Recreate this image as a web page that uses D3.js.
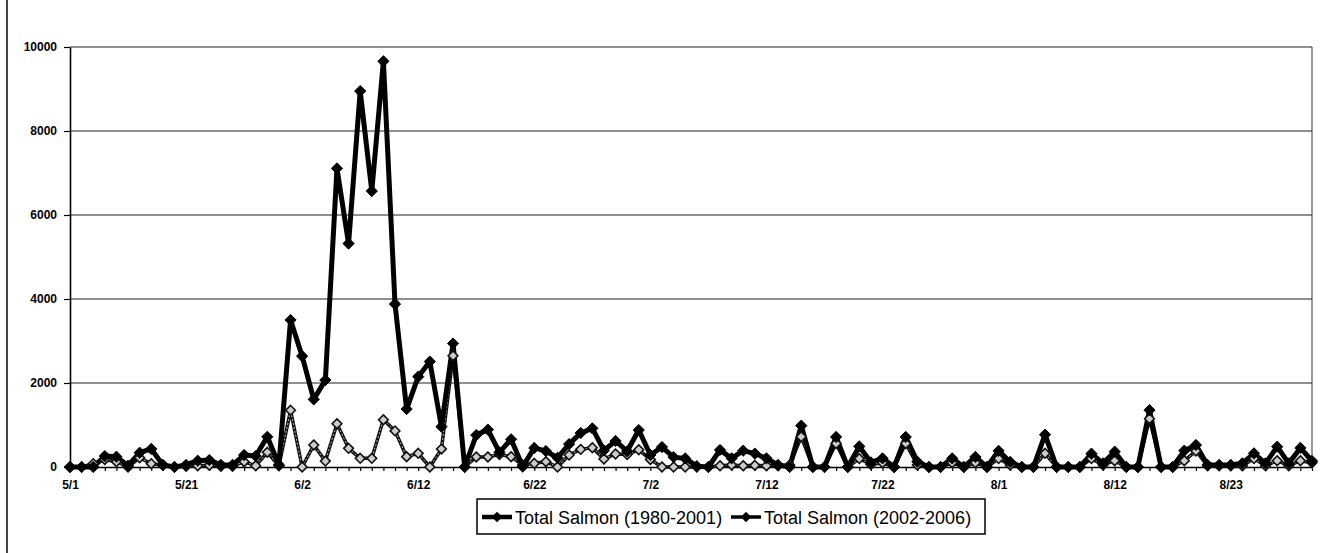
<!DOCTYPE html>
<html>
<head>
<meta charset="utf-8">
<script src="https://cdn.jsdelivr.net/npm/d3@7"></script>
<style>
  body { margin: 0; background: #fff; }
  svg { display: block; font-family: "Liberation Sans", Arial, sans-serif; }
</style>
</head>
<body>
<div id="chart"></div>
<script>
//Chart size
var width = 1323,
  height = 553;

//Date labels shown on the category axis (one every 10 samples)
var tickLabels = ["5/1", "5/21", "6/2", "6/12", "6/22", "7/2", "7/12", "7/22", "8/1", "8/12", "8/23"];
var labelStep = 10;

//Total Salmon (1980-2001)
var salmon1980 = [
  0, 0, 0, 260, 245, 30, 340, 430, 50, 0,
  50, 150, 165, 50, 50, 285, 260, 720, 50, 3500,
  2640, 1610, 2070, 7110, 5320, 8950, 6570, 9660, 3880, 1380,
  2150, 2510, 960, 2940, 0, 760, 890, 350, 660, 10,
  455, 380, 220, 545, 810, 920, 395, 620, 375, 880,
  286, 475, 235, 205, 20, 0, 405, 206, 389, 320,
  206, 50, 0, 985, 0, 0, 715, 0, 490, 110,
  206, 0, 715, 127, 0, 0, 206, 0, 240, 0,
  385, 120, 0, 0, 770, 0, 0, 0, 318, 87,
  365, 0, 0, 1355, 0, 0, 389, 524, 50, 50,
  50, 87, 325, 87, 484, 87, 455, 143
];

//Total Salmon (2002-2006)
var salmon2002 = [
  0, 0, 80, 180, 127, 0, 220, 80, 40, 0,
  20, 30, 40, 20, 20, 127, 30, 350, 30, 1350,
  0, 524, 140, 1030, 444, 206, 206, 1125, 860, 246,
  325, 0, 430, 2650, 0, 240, 240, 300, 246, 48,
  87, 127, 0, 286, 420, 460, 190, 310, 300, 410,
  180, 0, 0, 0, 0, 0, 30, 50, 30, 40,
  30, 30, 50, 720, 0, 0, 560, 0, 200, 60,
  100, 0, 560, 50, 0, 0, 100, 0, 100, 0,
  200, 50, 0, 0, 325, 0, 0, 0, 200, 50,
  150, 0, 0, 1150, 0, 0, 150, 380, 30, 30,
  30, 30, 200, 30, 150, 30, 150, 100
];

var yTicks = [0, 2000, 4000, 6000, 8000, 10000];

var svg = d3
  .select("#chart")
  .append("svg")
  .attr("width", width)
  .attr("height", height);

//Scales: one point per sample, evenly spaced like an Excel category axis
var x = d3.scalePoint().domain(d3.range(salmon1980.length)).range([70, 1312]);
var y = d3.scaleLinear().domain([0, 10000]).range([467, 47]);

//Left edge of the chart area
svg.append("line")
  .attr("x1", 7).attr("x2", 7)
  .attr("y1", 0).attr("y2", height)
  .attr("stroke", "#444")
  .attr("stroke-width", 2);

//Horizontal gridlines
svg.append("g")
  .selectAll("line")
  .data(yTicks.slice(1))
  .enter()
  .append("line")
  .attr("x1", 70)
  .attr("x2", 1312)
  .attr("y1", function (d) { return y(d); })
  .attr("y2", function (d) { return y(d); })
  .attr("stroke", "#222")
  .attr("stroke-width", 1);

//Right border of plot area
svg.append("line")
  .attr("x1", 1312).attr("x2", 1312)
  .attr("y1", y(10000)).attr("y2", y(0))
  .attr("stroke", "#333")
  .attr("stroke-width", 1);

//Y axis
svg.append("g")
  .attr("transform", "translate(70,0)")
  .call(
    d3.axisLeft(y)
      .tickValues(yTicks)
      .tickFormat(d3.format("d"))
      .tickSize(6)
      .tickSizeOuter(0)
      .tickPadding(7)
  );

//X axis, tick at every sample, label every 10th
svg.append("g")
  .attr("transform", "translate(0," + y(0) + ")")
  .call(
    d3.axisBottom(x)
      .tickSize(4)
      .tickSizeOuter(0)
      .tickPadding(9)
      .tickFormat(function (i) {
        return i % labelStep === 0 ? tickLabels[i / labelStep] : "";
      })
  );

svg.selectAll(".domain").attr("stroke", "#000").attr("stroke-width", 1.6);
svg.selectAll(".tick line").attr("stroke", "#000").attr("stroke-width", 1.2);
svg.selectAll(".tick text")
  .attr("fill", "#000")
  .style("font-size", "12px")
  .style("font-weight", "bold");

//Line generator
var line = d3.line()
  .x(function (d, i) { return x(i); })
  .y(function (d) { return y(d); });

var diamond = d3.symbol().type(d3.symbolDiamond2);

//Series 2002-2006: dark edged line with pale core
svg.append("path")
  .datum(salmon2002)
  .attr("fill", "none")
  .attr("stroke", "#111")
  .attr("stroke-width", 3.5)
  .attr("stroke-linejoin", "round")
  .attr("d", line);

svg.append("path")
  .datum(salmon2002)
  .attr("fill", "none")
  .attr("stroke", "#bbb")
  .attr("stroke-width", 1)
  .attr("stroke-dasharray", "2,2")
  .attr("d", line);

//Series 1980-2001: heavy black line
svg.append("path")
  .datum(salmon1980)
  .attr("fill", "none")
  .attr("stroke", "#000")
  .attr("stroke-width", 5)
  .attr("stroke-linejoin", "round")
  .attr("d", line);

svg.append("g")
  .selectAll("path")
  .data(salmon2002)
  .enter()
  .append("path")
  .attr("d", diamond.size(60))
  .attr("transform", function (d, i) {
    return "translate(" + x(i) + "," + y(d) + ")";
  })
  .attr("fill", "#ccc")
  .attr("stroke", "#111")
  .attr("stroke-width", 1.6);

svg.append("g")
  .selectAll("path")
  .data(salmon1980)
  .enter()
  .append("path")
  .attr("d", diamond.size(80))
  .attr("transform", function (d, i) {
    return "translate(" + x(i) + "," + y(d) + ")";
  })
  .attr("fill", "#000")
  .attr("stroke", "#000")
  .attr("stroke-width", 1);

//Legend
var legendItems = [
  { name: "Total Salmon (1980-2001)", x: 482, w: 4.5 },
  { name: "Total Salmon (2002-2006)", x: 731, w: 3.5 }
];

var legend = svg.append("g");

legend.append("rect")
  .attr("x", 477)
  .attr("y", 499)
  .attr("width", 508)
  .attr("height", 35)
  .attr("fill", "#fff")
  .attr("stroke", "#000")
  .attr("stroke-width", 1.5);

var entry = legend.selectAll("g.entry")
  .data(legendItems)
  .enter()
  .append("g")
  .attr("class", "entry")
  .attr("transform", function (d) { return "translate(" + d.x + ",517)"; });

entry.append("line")
  .attr("x1", 0).attr("x2", 30)
  .attr("y1", 0).attr("y2", 0)
  .attr("stroke", "#000")
  .attr("stroke-width", function (d) { return d.w; });

entry.append("path")
  .attr("d", diamond.size(70))
  .attr("transform", "translate(15,0)")
  .attr("fill", "#000");

entry.append("text")
  .attr("x", 33)
  .attr("y", 6.5)
  .style("font-size", "18px")
  .text(function (d) { return d.name; });
</script>
</body>
</html>
